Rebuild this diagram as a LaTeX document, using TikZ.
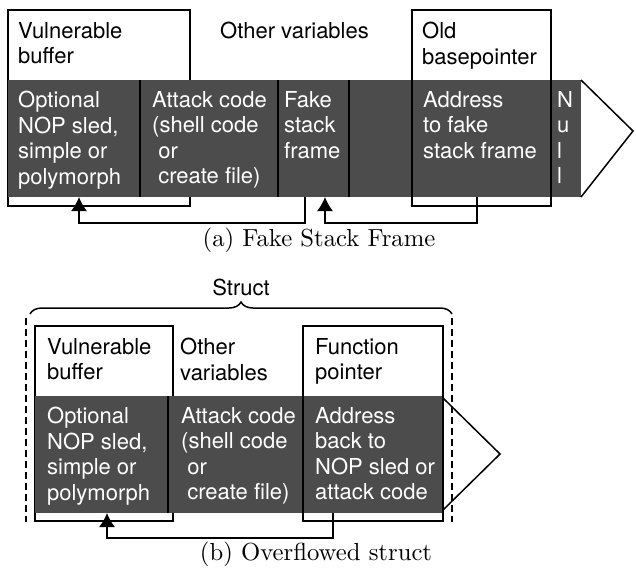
\documentclass[tikz,border=0pt]{standalone}
\usepackage{fontspec}
\setsansfont{TeX Gyre Heros}
\usetikzlibrary{arrows.meta,decorations.pathreplacing}

\begin{document}
\begin{tikzpicture}[x=1pt,y=-1pt,
  every node/.style={inner sep=0pt},
  field/.style={anchor=north west,align=left,font=\sffamily\fontsize{22}{25.5}\selectfont},
  infield/.style={field,text=white},
  band/.style={fill=black!70},
  frame/.style={draw,line width=1.5pt},
  link/.style={line width=1.5pt,-{Latex[length=14pt,width=16pt]}},
  caption/.style={anchor=base,scale=2.47,font=\normalsize}]

\useasboundingbox (0,0) rectangle (636,571);

\def \top{80}
\def \bot{197}

% (a) fake stack frame
\draw [frame] (8,10) rectangle (190,206);
\fill [band] (8,\top) rectangle (581,\bot);
\foreach \x in {140, 278, 349}{
\draw [line width=1.5pt] (\x,\top) -- (\x,\bot);
}
\draw [frame] (412,10) rectangle (551,206);
\draw [line width=1.5pt] (581,\top) -- (633,131) -- (581,\bot);

\node [field] (vulnA) at (18,22) {Vulnerable\\buffer};
\node [field] (otherA) at (220,22) {Other variables};
\node [field] (oldbp) at (422,22) {Old\\basepointer};

\node [infield] (nopA) at (18,91) {Optional\\NOP sled,\\simple or\\polymorph};
\node [infield] (attackA) at (152,91) {Attack code\\(shell code\\\ or\\\ create file)};
\node [infield] (fake) at (284,91) {Fake\\stack\\frame};
\node [infield] (addrA) at (423,91) {Address\\to fake\\stack frame};
\node [infield] (null) at (557,91) {N\\u\\l\\l};

\coordinate (fakeout) at (305,\bot);
\coordinate (nopinA) at (79,\bot);
\coordinate (addrout) at (477,\bot);
\coordinate (fakein) at (325,\bot);
\draw [link] (fakeout) -- ++(0,26) -| (nopinA);
\draw [link] (addrout) -- ++(0,26) -| (fakein);

\node [caption] (capA) at (319,246) {(a) Fake Stack Frame};

% (b) overflowed struct
\def \top{396}
\def \bot{513}

\draw [frame] (35,326) rectangle (173,521);
\fill [band] (35,\top) rectangle (443,\bot);
\draw [line width=1.5pt] (168,\top) -- (168,\bot);
\draw [frame] (303,326) rectangle (443,521);
\draw [line width=1.5pt] (443,398) -- (500,454) -- (443,510);

\draw [line width=1.5pt, dash pattern=on 7pt off 4pt] (26,318) -- (26,522);
\draw [line width=1.5pt, dash pattern=on 7pt off 4pt] (452,318) -- (452,522);
\draw [line width=1.5pt, decorate, decoration={brace, amplitude=12pt}] (30,314) -- (452,314);
\node [field, anchor=base] (struct) at (241,295) {Struct};

\node [field] (vulnB) at (47,338) {Vulnerable\\buffer};
\node [field] (otherB) at (180,338) {Other\\variables};
\node [field] (funcptr) at (315,338) {Function\\pointer};

\node [infield] (nopB) at (47,407) {Optional\\NOP sled,\\simple or\\polymorph};
\node [infield] (attackB) at (181,407) {Attack code\\(shell code\\\ or\\\ create file)};
\node [infield] (addrB) at (315,407) {Address\\back to\\NOP sled or\\attack code};

\coordinate (funcout) at (333,\bot);
\coordinate (nopinB) at (107,\bot);
\draw [link] (funcout) -- ++(0,25) -| (nopinB);

\node [caption] (capB) at (316,560) {(b) Overflowed struct};

\end{tikzpicture}
\end{document}
